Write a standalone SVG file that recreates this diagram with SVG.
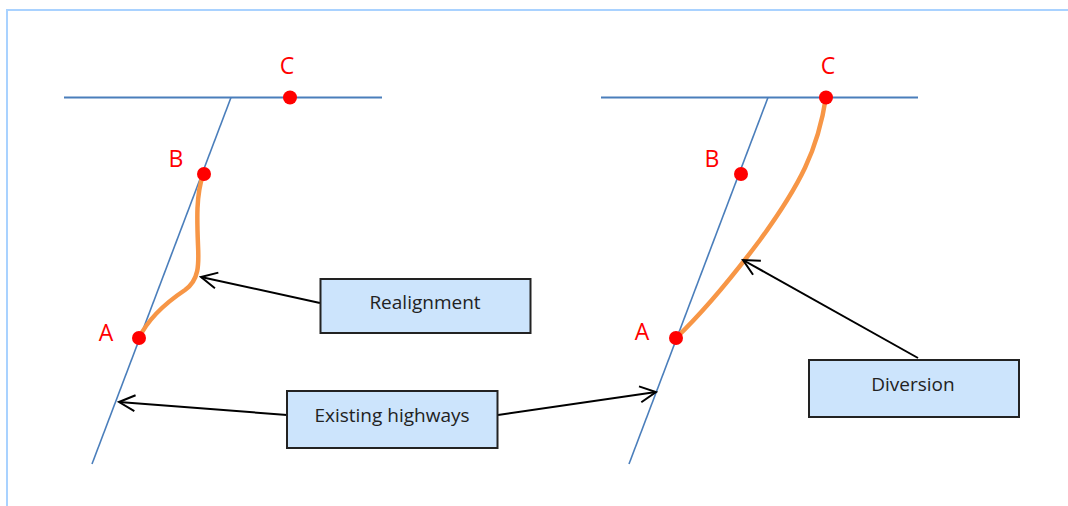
<svg xmlns="http://www.w3.org/2000/svg" width="1068" height="506" viewBox="0 0 1068 506">
<defs>
<style>
.frame{fill:none;stroke:#a9d2ff;stroke-width:2}
.road{stroke:#4a7ebb;stroke-width:2;fill:none}
.diag{stroke:#4a7ebb;stroke-width:1.6;fill:none}
.route{stroke:#f79646;stroke-width:4.5;fill:none;stroke-linecap:round}
.pt{fill:#ff0000}
.lbl{font-family:"Open Sans","Liberation Sans",sans-serif;font-size:23px;fill:#ff0000;text-anchor:middle}
.box{fill:#cce4fc;stroke:#222;stroke-width:2}
.btxt{font-family:"Open Sans","Liberation Sans",sans-serif;font-size:19px;fill:#222;text-anchor:middle}
.arr{stroke:#000;stroke-width:2;fill:none;marker-end:url(#open)}
</style>
<marker id="open" viewBox="0 0 20 20" refX="18" refY="10" markerWidth="20" markerHeight="20" markerUnits="userSpaceOnUse" orient="auto">
<path d="M2,2 L18,10 L2,18" fill="none" stroke="#000" stroke-width="2"/>
</marker>
</defs>
<path class="frame" d="M7,506 L7,10 L1068,10"/>
<g id="left-roads">
<line class="road" x1="64" y1="97.5" x2="382" y2="97.5"/>
<line class="diag" x1="231" y1="97.5" x2="92" y2="464"/>
</g>
<g id="left-realignment">
<path class="route" d="M139,338 C150,315 170,300 185,290 C199,280 199,265 198,245 C197,220 196,195 203,175"/>
</g>
<g id="left-points">
<circle class="pt" cx="290" cy="97.5" r="7"/>
<circle class="pt" cx="204" cy="174" r="7"/>
<circle class="pt" cx="139" cy="338" r="7"/>
<text class="lbl" x="287" y="74">C</text>
<text class="lbl" x="176" y="166.5">B</text>
<text class="lbl" x="106" y="341">A</text>
</g>
<g id="right-roads">
<line class="road" x1="601" y1="97.5" x2="918" y2="97.5"/>
<line class="diag" x1="768" y1="97.5" x2="629" y2="464"/>
</g>
<g id="right-diversion">
<path class="route" d="M676,338 C700,315 730,280 760,240 C800,185 818,150 826,97"/>
</g>
<g id="right-points">
<circle class="pt" cx="826" cy="97.5" r="7"/>
<circle class="pt" cx="741" cy="174" r="7"/>
<circle class="pt" cx="676" cy="338" r="7"/>
<text class="lbl" x="828" y="74">C</text>
<text class="lbl" x="712" y="167">B</text>
<text class="lbl" x="642" y="340">A</text>
</g>
<g id="connectors">
<line class="arr" x1="320" y1="303" x2="201" y2="277"/>
<line class="arr" x1="287" y1="415" x2="119" y2="402"/>
<line class="arr" x1="498" y1="415" x2="656" y2="392"/>
<line class="arr" x1="918" y1="358" x2="743" y2="260"/>
</g>
<g id="realignment-box">
<rect class="box" x="320.5" y="279" width="210" height="54"/>
<text class="btxt" x="425" y="309">Realignment</text>
</g>
<g id="existing-box">
<rect class="box" x="287" y="391" width="210.5" height="57"/>
<text class="btxt" x="392" y="422">Existing highways</text>
</g>
<g id="diversion-box">
<rect class="box" x="809" y="360" width="210" height="57"/>
<text class="btxt" x="913" y="391">Diversion</text>
</g>
</svg>
